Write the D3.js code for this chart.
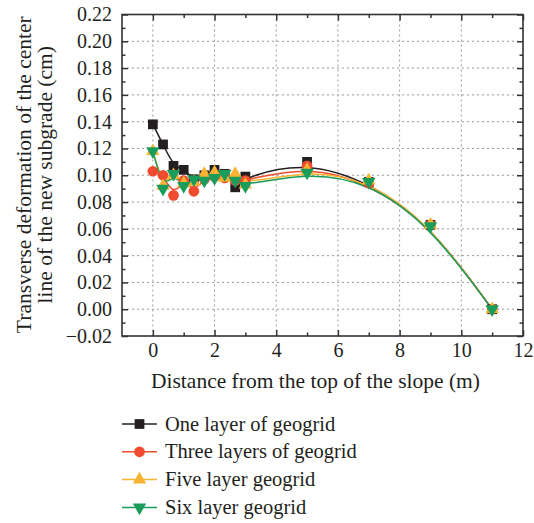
<!DOCTYPE html>
<html>
<head>
<meta charset="utf-8">
<script src="https://cdn.jsdelivr.net/npm/d3@7"></script>
<style>
  html, body { margin: 0; padding: 0; background: #fff; }
  svg { display: block; }
  text { font-family: "Liberation Serif", "DejaVu Serif", serif; fill: #231f20; }
</style>
</head>
<body>
<svg id="chart" width="534" height="523"></svg>
<script>
// Distance from the top of the slope (m)
const distances = [0, 0.33, 0.67, 1.0, 1.33, 1.67, 2.0, 2.33, 2.67, 3.0, 5, 7, 9, 11];

// Transverse deformation of the centre line (cm) per reinforcement scheme
const oneLayer   = [0.138, 0.123, 0.107, 0.104, 0.097, 0.100, 0.104, 0.101, 0.091, 0.099, 0.110, 0.095, 0.063, 0.000];
const threeLayer = [0.103, 0.100, 0.085, 0.096, 0.088, 0.097, 0.099, 0.098, 0.096, 0.096, 0.107, 0.094, 0.063, 0.000];
const fiveLayer  = [0.118, 0.092, 0.100, 0.094, 0.095, 0.101, 0.102, 0.098, 0.101, 0.093, 0.104, 0.096, 0.063, 0.000];
const sixLayer   = [0.118, 0.090, 0.101, 0.092, 0.097, 0.096, 0.098, 0.101, 0.096, 0.092, 0.102, 0.095, 0.062, 0.000];

const seriesNames = ["One layer of geogrid", "Three layers of geogrid", "Five layer geogrid", "Six layer geogrid"];

const xTicks = [0, 2, 4, 6, 8, 10, 12];
const yTicks = [-0.02, 0.00, 0.02, 0.04, 0.06, 0.08, 0.10, 0.12, 0.14, 0.16, 0.18, 0.20, 0.22];

const series = [
  { name: seriesNames[0], values: oneLayer,   color: "#231f20", symbol: d3.symbolSquare,   size: 95, rot: 0 },
  { name: seriesNames[1], values: threeLayer, color: "#ef4b2f", symbol: d3.symbolCircle,   size: 90, rot: 0 },
  { name: seriesNames[2], values: fiveLayer,  color: "#f8b332", symbol: d3.symbolTriangle, size: 78, rot: 0 },
  { name: seriesNames[3], values: sixLayer,   color: "#1a9c5b", symbol: d3.symbolTriangle, size: 78, rot: 180 }
];

const svg = d3.select("#chart");
const plot = { left: 122, right: 523, top: 14.5, bottom: 336 };

const x = d3.scaleLinear().domain([-1, 12]).range([plot.left, plot.right]);
const y = d3.scaleLinear().domain([-0.02, 0.22]).range([plot.bottom, plot.top]);

// Dotted grid at the major ticks
const grid = svg.append("g").attr("stroke", "#9a9a9a").attr("stroke-width", 1)
  .attr("stroke-dasharray", "2,3");
xTicks.filter(t => t > -1 && t < 12).forEach(t => {
  grid.append("line").attr("x1", x(t)).attr("x2", x(t))
    .attr("y1", plot.top).attr("y2", plot.bottom);
});
yTicks.filter(t => t > -0.02 && t < 0.22).forEach(t => {
  grid.append("line").attr("x1", plot.left).attr("x2", plot.right)
    .attr("y1", y(t)).attr("y2", y(t));
});

// Axes with inward ticks on all four sides
const axisColor = "#333";
const xMinor = d3.range(-1, 13, 1).filter(v => !xTicks.includes(v) && v > -1 && v < 12);
const yMinor = d3.range(-0.01, 0.22, 0.02).map(v => +v.toFixed(2));

const bottomAxis = svg.append("g").attr("transform", `translate(0,${plot.bottom})`)
  .call(d3.axisBottom(x).tickValues(xTicks).tickSize(-6).tickPadding(7).tickFormat(d3.format("d")));
const bottomMinor = svg.append("g").attr("transform", `translate(0,${plot.bottom})`)
  .call(d3.axisBottom(x).tickValues(xMinor).tickSize(-3.5).tickFormat(""));
const topAxis = svg.append("g").attr("transform", `translate(0,${plot.top})`)
  .call(d3.axisTop(x).tickValues(xTicks).tickSize(-6).tickFormat(""));
const topMinor = svg.append("g").attr("transform", `translate(0,${plot.top})`)
  .call(d3.axisTop(x).tickValues(xMinor).tickSize(-3.5).tickFormat(""));
const leftAxis = svg.append("g").attr("transform", `translate(${plot.left},0)`)
  .call(d3.axisLeft(y).tickValues(yTicks).tickSize(-6).tickPadding(10).tickFormat(d3.format(".2f")));
const leftMinor = svg.append("g").attr("transform", `translate(${plot.left},0)`)
  .call(d3.axisLeft(y).tickValues(yMinor).tickSize(-3.5).tickFormat(""));
const rightAxis = svg.append("g").attr("transform", `translate(${plot.right},0)`)
  .call(d3.axisRight(y).tickValues(yTicks).tickSize(-6).tickFormat(""));
const rightMinor = svg.append("g").attr("transform", `translate(${plot.right},0)`)
  .call(d3.axisRight(y).tickValues(yMinor).tickSize(-3.5).tickFormat(""));

[bottomAxis, bottomMinor, topAxis, topMinor, leftAxis, leftMinor, rightAxis, rightMinor].forEach(g => {
  g.selectAll(".domain").remove();
  g.selectAll(".tick line").attr("stroke", axisColor).attr("stroke-width", 1.5);
  g.selectAll(".tick text").attr("font-family", "Liberation Serif, DejaVu Serif, serif")
    .attr("font-size", 20).attr("fill", "#231f20");
});

// Frame
svg.append("rect")
  .attr("x", plot.left).attr("y", plot.top)
  .attr("width", plot.right - plot.left).attr("height", plot.bottom - plot.top)
  .attr("fill", "none").attr("stroke", axisColor).attr("stroke-width", 1.6);

// Smoothed curves
const line = d3.line()
  .x((d, i) => x(distances[i]))
  .y(d => y(d))
  .curve(d3.curveBasis);

series.forEach(s => {
  svg.append("path").datum(s.values)
    .attr("d", line)
    .attr("fill", "none")
    .attr("stroke", s.color)
    .attr("stroke-width", 1.5);
});

// Markers
function symbolPath(s) {
  return d3.symbol().type(s.symbol).size(s.size)();
}
series.forEach(s => {
  svg.append("g").selectAll("path")
    .data(s.values)
    .join("path")
    .attr("d", symbolPath(s))
    .attr("transform", (d, i) => `translate(${x(distances[i])},${y(d)}) rotate(${s.rot})`)
    .attr("fill", s.color);
});

// Axis titles
svg.append("text")
  .attr("x", 315.5).attr("y", 388)
  .attr("text-anchor", "middle")
  .attr("font-size", 21.5)
  .text("Distance from the top of the slope (m)");

const yTitle = svg.append("text")
  .attr("transform", `translate(0,${(plot.top + plot.bottom) / 2 - 0.5}) rotate(-90)`)
  .attr("text-anchor", "middle")
  .attr("font-size", 21.5);
yTitle.append("tspan").attr("x", 0).attr("y", 31).text("Transverse deformation of the center");
yTitle.append("tspan").attr("x", 0).attr("y", 52).text("line of the new subgrade (cm)");

// Legend
const legend = svg.append("g");
series.forEach((s, i) => {
  const cy = 424 + i * 27.8;
  legend.append("line")
    .attr("x1", 122).attr("x2", 157).attr("y1", cy).attr("y2", cy)
    .attr("stroke", s.color).attr("stroke-width", 1.5);
  legend.append("path")
    .attr("d", symbolPath(s))
    .attr("transform", `translate(139.5,${cy}) rotate(${s.rot})`)
    .attr("fill", s.color);
  legend.append("text")
    .attr("x", 165).attr("y", cy + 6.5)
    .attr("font-size", 20.5)
    .text(s.name);
});
</script>
</body>
</html>
